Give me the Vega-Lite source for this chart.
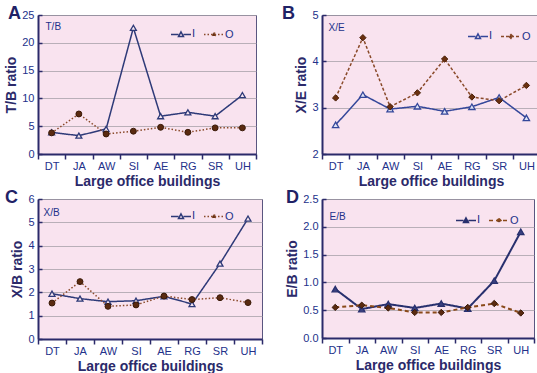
{
  "$schema": "https://vega.github.io/schema/vega-lite/v6.json",
  "padding": {"left": 4, "top": 4, "right": 2, "bottom": 2},
  "columns": 2,
  "align": "none",
  "bounds": "flush",
  "spacing": {"row": 45, "column": 60},
  "resolve": {"scale": {"color": "independent", "strokeDash": "independent"}, "legend": {"color": "independent", "strokeDash": "independent"}},
  "config": {
    "font": "Liberation Sans",
    "view": {"fill": "#f9e3ef", "stroke": "#5a5680", "strokeWidth": 1},
    "axis": {"labelFont": "Liberation Sans", "labelColor": "#23318a", "labelFontSize": 11, "titleFont": "Liberation Sans", "titleColor": "#2b2a6a", "titleFontSize": 14, "titleFontWeight": "bold", "domainColor": "#2b2a6a", "domainWidth": 2, "tickColor": "#2b2a6a", "tickWidth": 1.5},
    "axisX": {"tickBand": "extent", "tickSize": 5, "labelPadding": 1, "labelAngle": 0, "grid": false, "titlePadding": 3},
    "axisY": {"tickSize": -4, "labelPadding": 8, "grid": true, "gridColor": "#a8a2aa", "gridWidth": 0.8, "titlePadding": 3},
    "axisTop": {"labels": false, "ticks": false, "domain": false, "grid": false, "titleFontSize": 10, "titleFontWeight": "normal", "titleColor": "#23318a", "titleAnchor": "start", "titleAlign": "left", "titleBaseline": "top"},
    "legend": {"labelFont": "Liberation Sans", "labelColor": "#23318a", "labelFontSize": 11, "orient": "none", "direction": "horizontal", "symbolType": "stroke", "symbolSize": 400, "symbolStrokeWidth": 1.5, "columnPadding": 5, "labelOffset": 0, "padding": 0},
    "title": {"font": "Liberation Sans", "fontSize": 18, "fontWeight": "bold", "color": "#1f2266", "anchor": "start", "frame": "group", "offset": -14}
  },
  "datasets": {
    "A": [
      {"b": "DT", "s": "I", "v": 3.9}, {"b": "JA", "s": "I", "v": 3.3}, {"b": "AW", "s": "I", "v": 4.5}, {"b": "SI", "s": "I", "v": 22.7},
      {"b": "AE", "s": "I", "v": 6.8}, {"b": "RG", "s": "I", "v": 7.5}, {"b": "SR", "s": "I", "v": 6.8}, {"b": "UH", "s": "I", "v": 10.6},
      {"b": "DT", "s": "O", "v": 3.8}, {"b": "JA", "s": "O", "v": 7.2}, {"b": "AW", "s": "O", "v": 3.6}, {"b": "SI", "s": "O", "v": 4.1},
      {"b": "AE", "s": "O", "v": 4.8}, {"b": "RG", "s": "O", "v": 3.9}, {"b": "SR", "s": "O", "v": 4.7}, {"b": "UH", "s": "O", "v": 4.7}
    ],
    "B": [
      {"b": "DT", "s": "I", "v": 2.63}, {"b": "JA", "s": "I", "v": 3.28}, {"b": "AW", "s": "I", "v": 2.97}, {"b": "SI", "s": "I", "v": 3.03},
      {"b": "AE", "s": "I", "v": 2.92}, {"b": "RG", "s": "I", "v": 3.02}, {"b": "SR", "s": "I", "v": 3.22}, {"b": "UH", "s": "I", "v": 2.78},
      {"b": "DT", "s": "O", "v": 3.21}, {"b": "JA", "s": "O", "v": 4.51}, {"b": "AW", "s": "O", "v": 3.02}, {"b": "SI", "s": "O", "v": 3.32},
      {"b": "AE", "s": "O", "v": 4.05}, {"b": "RG", "s": "O", "v": 3.23}, {"b": "SR", "s": "O", "v": 3.15}, {"b": "UH", "s": "O", "v": 3.48}
    ],
    "C": [
      {"b": "DT", "s": "I", "v": 1.94}, {"b": "JA", "s": "I", "v": 1.73}, {"b": "AW", "s": "I", "v": 1.6}, {"b": "SI", "s": "I", "v": 1.64},
      {"b": "AE", "s": "I", "v": 1.83}, {"b": "RG", "s": "I", "v": 1.5}, {"b": "SR", "s": "I", "v": 3.23}, {"b": "UH", "s": "I", "v": 5.16},
      {"b": "DT", "s": "O", "v": 1.54}, {"b": "JA", "s": "O", "v": 2.46}, {"b": "AW", "s": "O", "v": 1.4}, {"b": "SI", "s": "O", "v": 1.46},
      {"b": "AE", "s": "O", "v": 1.84}, {"b": "RG", "s": "O", "v": 1.69}, {"b": "SR", "s": "O", "v": 1.77}, {"b": "UH", "s": "O", "v": 1.56}
    ],
    "D": [
      {"b": "DT", "s": "I", "v": 0.88}, {"b": "JA", "s": "I", "v": 0.52}, {"b": "AW", "s": "I", "v": 0.61}, {"b": "SI", "s": "I", "v": 0.54},
      {"b": "AE", "s": "I", "v": 0.62}, {"b": "RG", "s": "I", "v": 0.53}, {"b": "SR", "s": "I", "v": 1.03}, {"b": "UH", "s": "I", "v": 1.91},
      {"b": "DT", "s": "O", "v": 0.55}, {"b": "JA", "s": "O", "v": 0.59}, {"b": "AW", "s": "O", "v": 0.54}, {"b": "SI", "s": "O", "v": 0.46},
      {"b": "AE", "s": "O", "v": 0.46}, {"b": "RG", "s": "O", "v": 0.55}, {"b": "SR", "s": "O", "v": 0.62}, {"b": "UH", "s": "O", "v": 0.45}
    ]
  },
  "concat": [
    {
      "width": 218, "height": 139,
      "title": {"text": "A", "dx": -30},
      "data": {"name": "A"},
      "resolve": {"axis": {"x": "independent"}},
      "encoding": {
        "y": {"field": "v", "type": "quantitative", "scale": {"domain": [0, 25]}, "axis": {"title": "T/B ratio", "values": [0, 5, 10, 15, 20, 25]}}
      },
      "layer": [
        {
          "mark": {"type": "line", "strokeWidth": 1.5},
          "encoding": {
            "x": {"field": "b", "type": "nominal", "sort": ["DT", "JA", "AW", "SI", "AE", "RG", "SR", "UH"], "scale": {"type": "band", "paddingInner": 0, "paddingOuter": 0}, "axis": {"title": "Large office buildings", "orient": "bottom"}},
            "color": {"field": "s", "type": "nominal", "scale": {"domain": ["I", "O"], "range": ["#2e3a78", "#8a4a2a"]}, "legend": {"title": null, "legendX": 132, "legendY": 8, "encode": {"symbols": {"update": {"shape": {"signal": "datum.value === 'I' ? 'M-1,0H-0.25M0.25,0H1M-0.25,0.22L0,-0.25L0.25,0.22Z' : 'M-1,0H1M0.16,0A0.16,0.16,0,1,1,-0.16,0A0.16,0.16,0,1,1,0.16,0Z'"}, "fill": {"signal": "datum.value === 'I' ? '#f9e3ef' : '#5a2a10'"}}}}}},
            "strokeDash": {"field": "s", "type": "nominal", "scale": {"domain": ["I", "O"], "range": [[1, 0], [1.5, 2]]}, "legend": {"title": null, "legendX": 132, "legendY": 8}}
          }
        },
        {
          "transform": [{"filter": "datum.s === 'I'"}],
          "mark": {"type": "point", "shape": "triangle-up", "size": 35, "strokeWidth": 1.3, "opacity": 1, "fill": "#f6e6ef", "stroke": "#2e3a78"},
          "encoding": {
            "x": {"field": "b", "type": "nominal", "sort": ["DT", "JA", "AW", "SI", "AE", "RG", "SR", "UH"], "axis": null}
          }
        },
        {
          "transform": [{"filter": "datum.s === 'O'"}],
          "mark": {"type": "point", "shape": "circle", "size": 35, "strokeWidth": 1, "opacity": 1, "fill": "#5a2a10", "stroke": "#3a1a08"},
          "encoding": {
            "x": {"field": "b", "type": "nominal", "sort": ["DT", "JA", "AW", "SI", "AE", "RG", "SR", "UH"], "axis": {"orient": "top", "title": "T/B", "titleX": 7, "titleY": 6}}
          }
        }
      ]
    },
    {
      "width": 218, "height": 139,
      "title": {"text": "B", "dx": -40},
      "data": {"name": "B"},
      "resolve": {"axis": {"x": "independent"}},
      "encoding": {
        "y": {"field": "v", "type": "quantitative", "scale": {"domain": [2, 5]}, "axis": {"title": "X/E ratio", "values": [2, 3, 4, 5]}}
      },
      "layer": [
        {
          "mark": {"type": "line", "strokeWidth": 1.5},
          "encoding": {
            "x": {"field": "b", "type": "nominal", "sort": ["DT", "JA", "AW", "SI", "AE", "RG", "SR", "UH"], "scale": {"type": "band", "paddingInner": 0, "paddingOuter": 0}, "axis": {"title": "Large office buildings", "orient": "bottom"}},
            "color": {"field": "s", "type": "nominal", "scale": {"domain": ["I", "O"], "range": ["#34479a", "#8a4a2a"]}, "legend": {"title": null, "legendX": 145, "legendY": 10, "encode": {"symbols": {"update": {"shape": {"signal": "datum.value === 'I' ? 'M-1,0H-0.25M0.25,0H1M-0.25,0.22L0,-0.25L0.25,0.22Z' : 'M-1,0H1M0,-0.2L0.2,0L0,0.2L-0.2,0Z'"}, "fill": {"signal": "datum.value === 'I' ? '#f9e3ef' : '#6a3010'"}}}}}},
            "strokeDash": {"field": "s", "type": "nominal", "scale": {"domain": ["I", "O"], "range": [[1, 0], [3, 2]]}, "legend": {"title": null, "legendX": 145, "legendY": 10}}
          }
        },
        {
          "transform": [{"filter": "datum.s === 'I'"}],
          "mark": {"type": "point", "shape": "triangle-up", "size": 40, "strokeWidth": 1.3, "opacity": 1, "fill": "#dfe3f5", "stroke": "#34479a"},
          "encoding": {
            "x": {"field": "b", "type": "nominal", "sort": ["DT", "JA", "AW", "SI", "AE", "RG", "SR", "UH"], "axis": null}
          }
        },
        {
          "transform": [{"filter": "datum.s === 'O'"}],
          "mark": {"type": "point", "shape": "diamond", "size": 40, "strokeWidth": 1, "opacity": 1, "fill": "#6a3010", "stroke": "#4a2008"},
          "encoding": {
            "x": {"field": "b", "type": "nominal", "sort": ["DT", "JA", "AW", "SI", "AE", "RG", "SR", "UH"], "axis": {"orient": "top", "title": "X/E", "titleX": 6, "titleY": 7}}
          }
        }
      ]
    },
    {
      "width": 224, "height": 140,
      "title": {"text": "C", "dx": -33},
      "data": {"name": "C"},
      "resolve": {"axis": {"x": "independent"}},
      "encoding": {
        "y": {"field": "v", "type": "quantitative", "scale": {"domain": [0, 6]}, "axis": {"title": "X/B ratio", "values": [0, 1, 2, 3, 4, 5, 6]}}
      },
      "layer": [
        {
          "mark": {"type": "line", "strokeWidth": 1.5},
          "encoding": {
            "x": {"field": "b", "type": "nominal", "sort": ["DT", "JA", "AW", "SI", "AE", "RG", "SR", "UH"], "scale": {"type": "band", "paddingInner": 0, "paddingOuter": 0}, "axis": {"title": "Large office buildings", "orient": "bottom"}},
            "color": {"field": "s", "type": "nominal", "scale": {"domain": ["I", "O"], "range": ["#2e3a78", "#8a4a2a"]}, "legend": {"title": null, "legendX": 132, "legendY": 6, "encode": {"symbols": {"update": {"shape": {"signal": "datum.value === 'I' ? 'M-1,0H-0.25M0.25,0H1M-0.25,0.22L0,-0.25L0.25,0.22Z' : 'M-1,0H1M0.16,0A0.16,0.16,0,1,1,-0.16,0A0.16,0.16,0,1,1,0.16,0Z'"}, "fill": {"signal": "datum.value === 'I' ? '#f9e3ef' : '#5a2a10'"}}}}}},
            "strokeDash": {"field": "s", "type": "nominal", "scale": {"domain": ["I", "O"], "range": [[1, 0], [1.5, 2]]}, "legend": {"title": null, "legendX": 132, "legendY": 6}}
          }
        },
        {
          "transform": [{"filter": "datum.s === 'I'"}],
          "mark": {"type": "point", "shape": "triangle-up", "size": 35, "strokeWidth": 1.3, "opacity": 1, "fill": "#f6e6ef", "stroke": "#2e3a78"},
          "encoding": {
            "x": {"field": "b", "type": "nominal", "sort": ["DT", "JA", "AW", "SI", "AE", "RG", "SR", "UH"], "axis": null}
          }
        },
        {
          "transform": [{"filter": "datum.s === 'O'"}],
          "mark": {"type": "point", "shape": "circle", "size": 35, "strokeWidth": 1, "opacity": 1, "fill": "#5a2a10", "stroke": "#3a1a08"},
          "encoding": {
            "x": {"field": "b", "type": "nominal", "sort": ["DT", "JA", "AW", "SI", "AE", "RG", "SR", "UH"], "axis": {"orient": "top", "title": "X/B", "titleX": 5, "titleY": 8}}
          }
        }
      ]
    },
    {
      "width": 212, "height": 139,
      "title": {"text": "D", "dx": -36},
      "data": {"name": "D"},
      "resolve": {"axis": {"x": "independent"}},
      "encoding": {
        "y": {"field": "v", "type": "quantitative", "scale": {"domain": [0, 2.5]}, "axis": {"title": "E/B ratio", "values": [0, 0.5, 1, 1.5, 2, 2.5], "format": ".1f"}}
      },
      "layer": [
        {
          "mark": {"type": "line", "strokeWidth": 2},
          "encoding": {
            "x": {"field": "b", "type": "nominal", "sort": ["DT", "JA", "AW", "SI", "AE", "RG", "SR", "UH"], "scale": {"type": "band", "paddingInner": 0, "paddingOuter": 0}, "axis": {"title": "Large office buildings", "orient": "bottom"}},
            "color": {"field": "s", "type": "nominal", "scale": {"domain": ["I", "O"], "range": ["#28306e", "#8a4a1a"]}, "legend": {"title": null, "legendX": 133, "legendY": 10, "encode": {"symbols": {"update": {"shape": {"signal": "datum.value === 'I' ? 'M-1,0H-0.25M0.25,0H1M-0.25,0.22L0,-0.25L0.25,0.22Z' : 'M-1,0H1M0,-0.2L0.2,0L0,0.2L-0.2,0Z'"}, "fill": {"signal": "datum.value === 'I' ? '#28306e' : '#5a2a10'"}}}}}},
            "strokeDash": {"field": "s", "type": "nominal", "scale": {"domain": ["I", "O"], "range": [[1, 0], [4, 3]]}, "legend": {"title": null, "legendX": 133, "legendY": 10}}
          }
        },
        {
          "transform": [{"filter": "datum.s === 'I'"}],
          "mark": {"type": "point", "shape": "triangle-up", "size": 40, "strokeWidth": 1.3, "opacity": 1, "fill": "#3a4080", "stroke": "#28306e"},
          "encoding": {
            "x": {"field": "b", "type": "nominal", "sort": ["DT", "JA", "AW", "SI", "AE", "RG", "SR", "UH"], "axis": null}
          }
        },
        {
          "transform": [{"filter": "datum.s === 'O'"}],
          "mark": {"type": "point", "shape": "diamond", "size": 40, "strokeWidth": 1, "opacity": 1, "fill": "#5a2a10", "stroke": "#3a1a08"},
          "encoding": {
            "x": {"field": "b", "type": "nominal", "sort": ["DT", "JA", "AW", "SI", "AE", "RG", "SR", "UH"], "axis": {"orient": "top", "title": "E/B", "titleX": 7, "titleY": 12}}
          }
        }
      ]
    }
  ]
}
